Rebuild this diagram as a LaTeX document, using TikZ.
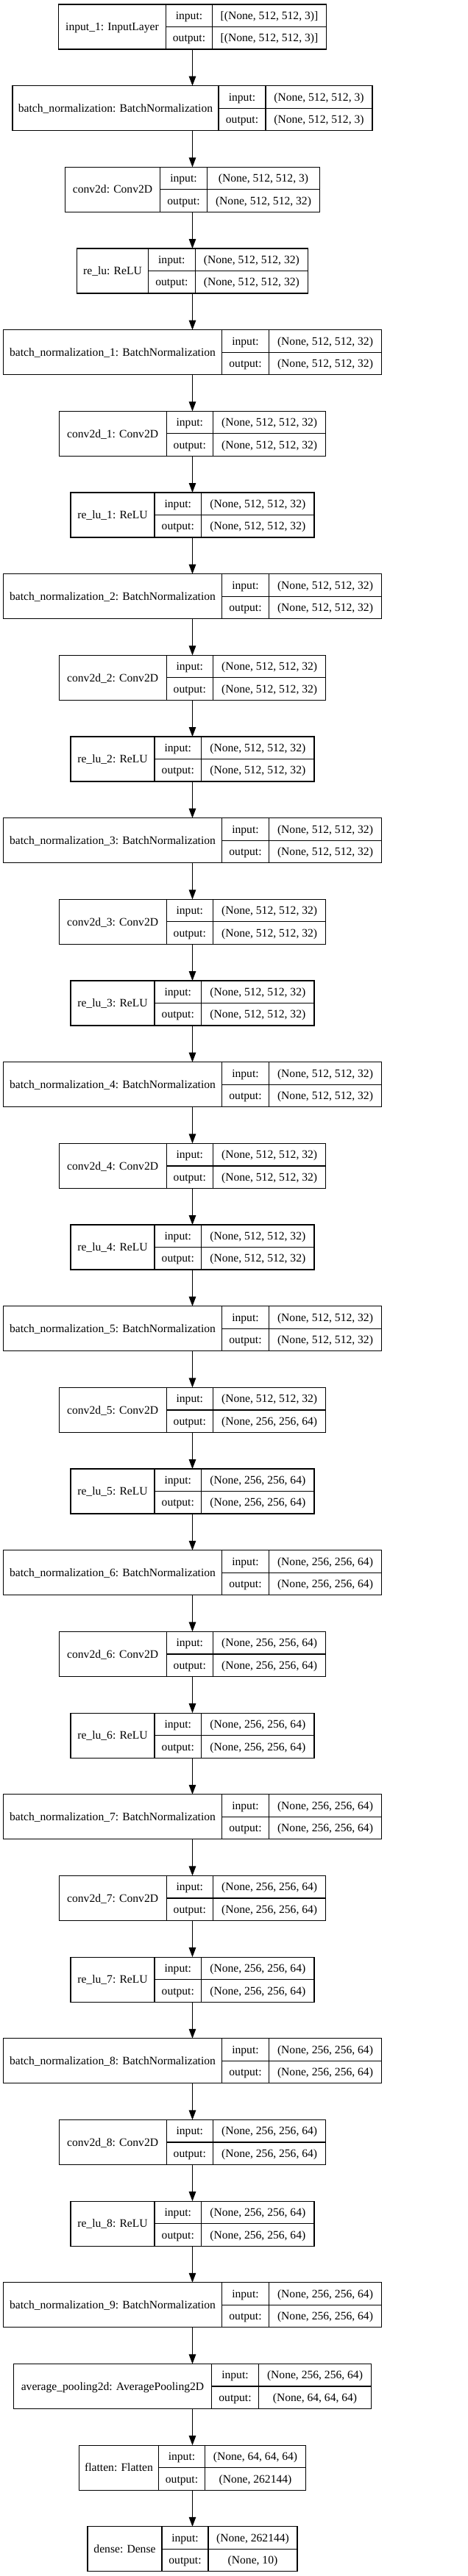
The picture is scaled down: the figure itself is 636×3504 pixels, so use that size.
\documentclass[tikz,border=0pt]{standalone}
\usepackage{fontspec}
\setmainfont{Liberation Serif}
\usetikzlibrary{arrows.meta}
\tikzset{
  kcell/.style={draw=black, line width=1.2pt, rectangle, inner xsep=0pt, inner ysep=0pt, outer sep=0pt,
    font=\fontsize{15.6}{18}\selectfont, text height=10.3pt, text depth=0pt, align=center},
  kframe/.style={draw=none, rectangle, inner sep=0pt, outer sep=0pt, minimum height=61pt},
  karrow/.style={line width=1.2pt, draw=black, -{Triangle[length=13pt,width=9.5pt]}},
}
% #1 name, #2 index, #3 w1, #4 w2, #5 w3, #6 label, #7 input shape, #8 output shape
\newcommand\kbox[8]{%
  \pgfmathsetmacro\ktop{6+#2*110.67}%
  \pgfmathsetmacro\kleft{261.5-(#3+#4+#5)/2}%
  \node[kframe, minimum width=#3+#4+#5, anchor=north] (#1) at (261.5,-\ktop) {};
  \node[kcell, minimum width=#3, minimum height=61, anchor=north west] (#1-l) at (\kleft,-\ktop) {#6};
  \node[kcell, minimum width=#4, minimum height=30.5, anchor=north west] (#1-i) at (#1-l.north east) {input:};
  \node[kcell, minimum width=#4, minimum height=30.5, anchor=north west] (#1-o) at (#1-i.south west) {output:};
  \node[kcell, minimum width=#5, minimum height=30.5, anchor=north west] (#1-iv) at (#1-i.north east) {#7};
  \node[kcell, minimum width=#5, minimum height=30.5, anchor=north west] (#1-ov) at (#1-iv.south west) {#8};
}
\newcommand\sA{(None, 512, 512, 32)}
\newcommand\sB{(None, 256, 256, 64)}
\begin{document}
\begin{tikzpicture}[x=1pt, y=1pt]
\useasboundingbox[fill=white] (0,0) rectangle (636,-3504);
\kbox{in0}{0}{146}{63}{155}{input\_1: InputLayer}{[(None, 512, 512, 3)]}{[(None, 512, 512, 3)]}
\kbox{bn0}{1}{280}{64}{145}{batch\_normalization: BatchNormalization}{(None, 512, 512, 3)}{(None, 512, 512, 3)}
\kbox{cv0}{2}{129}{64}{153}{conv2d: Conv2D}{(None, 512, 512, 3)}{\sA}
\kbox{rl0}{3}{97}{63.7}{153.3}{re\_lu: ReLU}{\sA}{\sA}
\kbox{bn1}{4}{297}{64}{153}{batch\_normalization\_1: BatchNormalization}{\sA}{\sA}
\kbox{cv1}{5}{146}{63.3}{153.4}{conv2d\_1: Conv2D}{\sA}{\sA}
\kbox{rl1}{6}{114}{63.6}{153.4}{re\_lu\_1: ReLU}{\sA}{\sA}
\kbox{bn2}{7}{297}{64}{153}{batch\_normalization\_2: BatchNormalization}{\sA}{\sA}
\kbox{cv2}{8}{146}{63.3}{153.4}{conv2d\_2: Conv2D}{\sA}{\sA}
\kbox{rl2}{9}{114}{63.6}{153.4}{re\_lu\_2: ReLU}{\sA}{\sA}
\kbox{bn3}{10}{297}{64}{153}{batch\_normalization\_3: BatchNormalization}{\sA}{\sA}
\kbox{cv3}{11}{146}{63.3}{153.4}{conv2d\_3: Conv2D}{\sA}{\sA}
\kbox{rl3}{12}{114}{63.6}{153.4}{re\_lu\_3: ReLU}{\sA}{\sA}
\kbox{bn4}{13}{297}{64}{153}{batch\_normalization\_4: BatchNormalization}{\sA}{\sA}
\kbox{cv4}{14}{146}{63.3}{153.4}{conv2d\_4: Conv2D}{\sA}{\sA}
\kbox{rl4}{15}{114}{63.6}{153.4}{re\_lu\_4: ReLU}{\sA}{\sA}
\kbox{bn5}{16}{297}{64}{153}{batch\_normalization\_5: BatchNormalization}{\sA}{\sA}
\kbox{cv5}{17}{146}{63.3}{153.4}{conv2d\_5: Conv2D}{\sA}{\sB}
\kbox{rl5}{18}{114}{63.6}{153.4}{re\_lu\_5: ReLU}{\sB}{\sB}
\kbox{bn6}{19}{297}{64}{153}{batch\_normalization\_6: BatchNormalization}{\sB}{\sB}
\kbox{cv6}{20}{146}{63.3}{153.4}{conv2d\_6: Conv2D}{\sB}{\sB}
\kbox{rl6}{21}{114}{63.6}{153.4}{re\_lu\_6: ReLU}{\sB}{\sB}
\kbox{bn7}{22}{297}{64}{153}{batch\_normalization\_7: BatchNormalization}{\sB}{\sB}
\kbox{cv7}{23}{146}{63.3}{153.4}{conv2d\_7: Conv2D}{\sB}{\sB}
\kbox{rl7}{24}{114}{63.6}{153.4}{re\_lu\_7: ReLU}{\sB}{\sB}
\kbox{bn8}{25}{297}{64}{153}{batch\_normalization\_8: BatchNormalization}{\sB}{\sB}
\kbox{cv8}{26}{146}{63.3}{153.4}{conv2d\_8: Conv2D}{\sB}{\sB}
\kbox{rl8}{27}{114}{63.6}{153.4}{re\_lu\_8: ReLU}{\sB}{\sB}
\kbox{bn9}{28}{297}{64}{153}{batch\_normalization\_9: BatchNormalization}{\sB}{\sB}
\kbox{avg}{29}{269}{64}{153}{average\_pooling2d: AveragePooling2D}{\sB}{(None, 64, 64, 64)}
\kbox{flat}{30}{108}{63}{137}{flatten: Flatten}{(None, 64, 64, 64)}{(None, 262144)}
\kbox{dense}{31}{101}{63}{121}{dense: Dense}{(None, 262144)}{(None, 10)}
\foreach \a/\b in {in0/bn0, bn0/cv0, cv0/rl0, rl0/bn1, bn1/cv1, cv1/rl1, rl1/bn2, bn2/cv2, cv2/rl2,
  rl2/bn3, bn3/cv3, cv3/rl3, rl3/bn4, bn4/cv4, cv4/rl4, rl4/bn5, bn5/cv5, cv5/rl5, rl5/bn6,
  bn6/cv6, cv6/rl6, rl6/bn7, bn7/cv7, cv7/rl7, rl7/bn8, bn8/cv8, cv8/rl8, rl8/bn9, bn9/avg,
  avg/flat, flat/dense}
  \draw[karrow] (\a.south) -- (\b.north);
\end{tikzpicture}
\end{document}
